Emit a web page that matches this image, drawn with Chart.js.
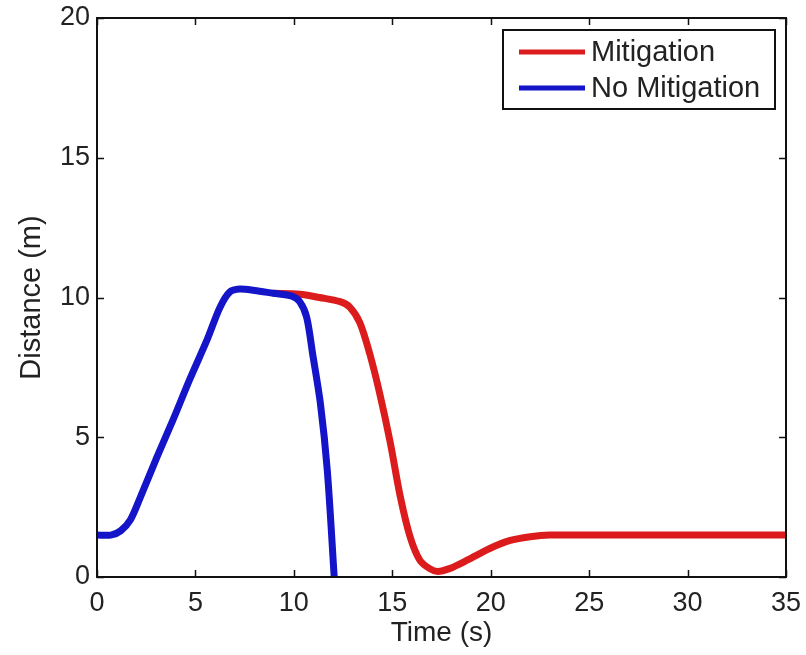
<!DOCTYPE html>
<html>
<head>
<meta charset="utf-8">
<script src="https://cdn.jsdelivr.net/npm/chart.js@4.4.1/dist/chart.umd.min.js"></script>
<style>
  html, body { margin: 0; padding: 0; background: #fff; }
  #wrap { width: 806px; height: 655px; }
</style>
</head>
<body>
<div id="wrap"><canvas id="chart"></canvas></div>
<script>
// values
const timeNoMit = [0, 0.7, 1.2, 1.7, 2.2, 3.05, 3.85, 4.7, 5.6, 6.25, 6.75, 7.25, 8.0, 8.95, 9.9, 10.3, 10.65, 10.95, 11.35, 11.7, 12.05];
const distNoMit = [1.5, 1.5, 1.65, 2.05, 2.85, 4.3, 5.6, 7.05, 8.5, 9.65, 10.2, 10.3, 10.25, 10.15, 10.05, 9.85, 9.3, 8.0, 6.2, 3.8, 0];

const timeMit = [8.95, 10.3, 11.3, 12.35, 12.85, 13.35, 13.85, 14.35, 14.9, 15.4, 15.9, 16.4, 16.9, 17.3, 17.9, 18.8, 19.95, 20.95, 22.1, 23.0, 25, 30, 35];
const distMit = [10.15, 10.12, 10.0, 9.85, 9.65, 9.1, 8.0, 6.6, 4.8, 2.9, 1.45, 0.6, 0.3, 0.2, 0.3, 0.6, 1.02, 1.3, 1.45, 1.5, 1.5, 1.5, 1.5];

const xTicks = [0, 5, 10, 15, 20, 25, 30, 35];
const yTicks = [0, 5, 10, 15, 20];

const RED = '#dc1c1c';
const BLUE = '#1414c8';
const FONT = "'Liberation Sans', Arial, Helvetica, sans-serif";

const toPoints = (xs, ys) => xs.map((x, i) => ({ x: x, y: ys[i] }));

// box round the plot with inward ticks on all four sides
const framePlugin = {
    id: 'frame',
    afterDatasetsDraw(chart) {
        const { ctx, chartArea: a, scales: { x, y } } = chart;
        ctx.save();
        ctx.strokeStyle = '#111';
        ctx.lineWidth = 2;
        ctx.strokeRect(a.left, a.top, a.right - a.left, a.bottom - a.top);
        ctx.lineWidth = 1.5;
        ctx.beginPath();
        x.ticks.forEach(t => {
            const px = Math.round(x.getPixelForValue(t.value)) + 0.5;
            ctx.moveTo(px, a.bottom); ctx.lineTo(px, a.bottom - 7);
            ctx.moveTo(px, a.top); ctx.lineTo(px, a.top + 7);
        });
        y.ticks.forEach(t => {
            const py = Math.round(y.getPixelForValue(t.value)) + 0.5;
            ctx.moveTo(a.left, py); ctx.lineTo(a.left + 7, py);
            ctx.moveTo(a.right, py); ctx.lineTo(a.right - 7, py);
        });
        ctx.stroke();
        ctx.restore();
    }
};

// boxed legend in the top right corner, drawn like the original
const boxLegend = {
    id: 'boxLegend',
    afterDraw(chart) {
        const { ctx, chartArea: a } = chart;
        const w = 272, h = 79;
        const left = a.right - 11 - w;
        const top = a.top + 12;
        ctx.save();
        ctx.fillStyle = '#fff';
        ctx.fillRect(left, top, w, h);
        ctx.strokeStyle = '#111';
        ctx.lineWidth = 2;
        ctx.strokeRect(left, top, w, h);
        const items = [chart.data.datasets[0], chart.data.datasets[1]];
        items.forEach((ds, i) => {
            const cy = top + 22 + i * 36;
            ctx.strokeStyle = ds.borderColor;
            ctx.lineWidth = 5;
            ctx.beginPath();
            ctx.moveTo(left + 16, cy);
            ctx.lineTo(left + 82, cy);
            ctx.stroke();
            ctx.fillStyle = '#222';
            ctx.font = '29px ' + FONT;
            ctx.textBaseline = 'middle';
            ctx.fillText(ds.label, left + 88, cy + 1);
        });
        ctx.restore();
    }
};

new Chart(document.getElementById('chart'), {
    type: 'line',
    data: {
        datasets: [
            {
                label: 'Mitigation',
                data: toPoints(timeMit, distMit),
                borderColor: RED,
                borderWidth: 7,
                pointRadius: 0,
                tension: 0.3,
                order: 2
            },
            {
                label: 'No Mitigation',
                data: toPoints(timeNoMit, distNoMit),
                borderColor: BLUE,
                borderWidth: 7,
                pointRadius: 0,
                tension: 0.3,
                order: 1
            }
        ]
    },
    options: {
        responsive: true,
        maintainAspectRatio: false,
        animation: false,
        layout: { padding: { top: 18, right: 20, left: 0, bottom: 0 } },
        plugins: {
            legend: { display: false },
            tooltip: { enabled: false }
        },
        scales: {
            x: {
                type: 'linear',
                min: 0,
                max: 35,
                afterBuildTicks: (scale) => { scale.ticks = xTicks.map(v => ({ value: v })); },
                afterFit: (scale) => {
                    scale.height = 78;
                    scale.paddingLeft = 0;
                    scale.paddingRight = 0;
                },
                grid: { display: false, drawTicks: false },
                border: { display: false },
                ticks: { color: '#222', padding: 10, font: { family: FONT, size: 27 }, maxRotation: 0 },
                title: { display: true, text: 'Time (s)', color: '#222', font: { family: FONT, size: 28 }, padding: { top: 0, bottom: 5 } }
            },
            y: {
                type: 'linear',
                min: 0,
                max: 20,
                afterBuildTicks: (scale) => { scale.ticks = yTicks.map(v => ({ value: v })); },
                afterFit: (scale) => {
                    scale.width = 97;
                    scale.paddingTop = 0;
                    scale.paddingBottom = 0;
                },
                grid: { display: false, drawTicks: false },
                border: { display: false },
                ticks: { color: '#222', padding: 7, font: { family: FONT, size: 27 } },
                title: { display: true, text: 'Distance (m)', color: '#222', font: { family: FONT, size: 29 }, padding: { top: 15, bottom: 0 } }
            }
        }
    },
    plugins: [framePlugin, boxLegend]
});
</script>
</body>
</html>
